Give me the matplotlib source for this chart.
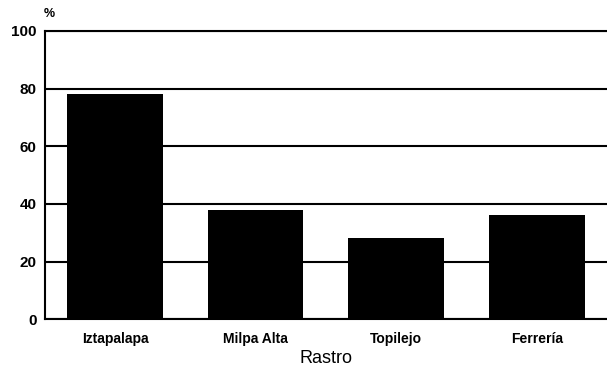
import matplotlib.pyplot as plt

rastros = ["Iztapalapa", "Milpa Alta", "Topilejo", "Ferrería"]
porcentaje = [78, 38, 28, 36]
y_ticks = [0, 20, 40, 60, 80, 100]

plt.rcParams['font.family'] = ['Liberation Sans', 'DejaVu Sans']

fig = plt.figure(figsize=(6.07, 3.69), dpi=100)
ax = fig.add_axes([0.074, 0.135, 0.926, 0.781])

ax.set_axisbelow(True)
ax.grid(axis='y', color='black', linewidth=1.5)
ax.bar(range(len(rastros)), porcentaje, width=0.68, color='black', zorder=3)

ax.set_xlim(-0.5, 3.5)
ax.set_ylim(0, 100)
ax.set_yticks(y_ticks)
ax.set_yticklabels([str(v) for v in y_ticks], fontsize=11, fontweight='bold')
ax.set_xticks(range(len(rastros)))
ax.set_xticklabels(rastros, fontsize=10, fontweight='bold')
ax.tick_params(axis='y', length=0, pad=6)
ax.tick_params(axis='x', length=0, pad=9)

for s in ['left', 'top', 'bottom']:
    ax.spines[s].set_linewidth(1.5)
ax.spines['right'].set_visible(False)

ax.set_xlabel("Rastro", fontsize=13, labelpad=3)
fig.text(0.072, 0.955, "%", fontsize=9, fontweight='bold')

fig.savefig("out.png", dpi=100)
